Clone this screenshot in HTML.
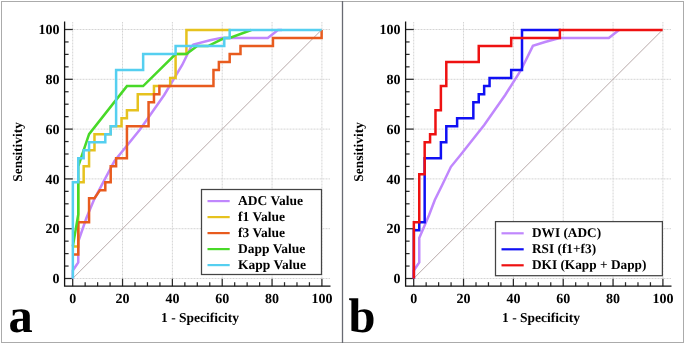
<!DOCTYPE html>
<html><head><meta charset="utf-8"><title>ROC curves</title>
<style>
html,body{margin:0;padding:0;background:#fff;}
body{width:685px;height:344px;overflow:hidden;}
svg{display:block;font-family:"Liberation Serif",serif;font-weight:bold;text-rendering:geometricPrecision;}
text{filter:grayscale(1);}
</style></head>
<body>
<svg width="685" height="344" viewBox="0 0 685 344" fill="#000">
<rect x="0" y="0" width="685" height="344" fill="#fff"/>
<rect x="1.5" y="1.5" width="682" height="341" fill="none" stroke="#ababab" stroke-width="1"/>
<line x1="342.5" y1="1" x2="342.5" y2="343" stroke="#686a72" stroke-width="1.3"/>
<g stroke="#d4d4d4" stroke-width="1" stroke-dasharray="1 0.5"><line x1="72.70" y1="22" x2="72.70" y2="286"/><line x1="65" y1="278.50" x2="330.5" y2="278.50"/><line x1="122.54" y1="22" x2="122.54" y2="286"/><line x1="65" y1="228.70" x2="330.5" y2="228.70"/><line x1="172.38" y1="22" x2="172.38" y2="286"/><line x1="65" y1="178.90" x2="330.5" y2="178.90"/><line x1="222.22" y1="22" x2="222.22" y2="286"/><line x1="65" y1="129.10" x2="330.5" y2="129.10"/><line x1="272.06" y1="22" x2="272.06" y2="286"/><line x1="65" y1="79.30" x2="330.5" y2="79.30"/><line x1="321.90" y1="22" x2="321.90" y2="286"/><line x1="65" y1="29.50" x2="330.5" y2="29.50"/></g>
<line x1="72.70" y1="278.5" x2="321.90" y2="29.50" stroke="#b8a9a9" stroke-width="1"/>
<g stroke="#2a2a2a" stroke-width="1.25"><line x1="64.6" y1="278.50" x2="72.80" y2="278.50"/><line x1="72.70" y1="286.2" x2="72.70" y2="278.70"/><line x1="64.6" y1="266.05" x2="68.60" y2="266.05"/><line x1="85.16" y1="286.2" x2="85.16" y2="282.20"/><line x1="64.6" y1="253.60" x2="68.60" y2="253.60"/><line x1="97.62" y1="286.2" x2="97.62" y2="282.20"/><line x1="64.6" y1="241.15" x2="68.60" y2="241.15"/><line x1="110.08" y1="286.2" x2="110.08" y2="282.20"/><line x1="64.6" y1="228.70" x2="72.80" y2="228.70"/><line x1="122.54" y1="286.2" x2="122.54" y2="278.70"/><line x1="64.6" y1="216.25" x2="68.60" y2="216.25"/><line x1="135.00" y1="286.2" x2="135.00" y2="282.20"/><line x1="64.6" y1="203.80" x2="68.60" y2="203.80"/><line x1="147.46" y1="286.2" x2="147.46" y2="282.20"/><line x1="64.6" y1="191.35" x2="68.60" y2="191.35"/><line x1="159.92" y1="286.2" x2="159.92" y2="282.20"/><line x1="64.6" y1="178.90" x2="72.80" y2="178.90"/><line x1="172.38" y1="286.2" x2="172.38" y2="278.70"/><line x1="64.6" y1="166.45" x2="68.60" y2="166.45"/><line x1="184.84" y1="286.2" x2="184.84" y2="282.20"/><line x1="64.6" y1="154.00" x2="68.60" y2="154.00"/><line x1="197.30" y1="286.2" x2="197.30" y2="282.20"/><line x1="64.6" y1="141.55" x2="68.60" y2="141.55"/><line x1="209.76" y1="286.2" x2="209.76" y2="282.20"/><line x1="64.6" y1="129.10" x2="72.80" y2="129.10"/><line x1="222.22" y1="286.2" x2="222.22" y2="278.70"/><line x1="64.6" y1="116.65" x2="68.60" y2="116.65"/><line x1="234.68" y1="286.2" x2="234.68" y2="282.20"/><line x1="64.6" y1="104.20" x2="68.60" y2="104.20"/><line x1="247.14" y1="286.2" x2="247.14" y2="282.20"/><line x1="64.6" y1="91.75" x2="68.60" y2="91.75"/><line x1="259.60" y1="286.2" x2="259.60" y2="282.20"/><line x1="64.6" y1="79.30" x2="72.80" y2="79.30"/><line x1="272.06" y1="286.2" x2="272.06" y2="278.70"/><line x1="64.6" y1="66.85" x2="68.60" y2="66.85"/><line x1="284.52" y1="286.2" x2="284.52" y2="282.20"/><line x1="64.6" y1="54.40" x2="68.60" y2="54.40"/><line x1="296.98" y1="286.2" x2="296.98" y2="282.20"/><line x1="64.6" y1="41.95" x2="68.60" y2="41.95"/><line x1="309.44" y1="286.2" x2="309.44" y2="282.20"/><line x1="64.6" y1="29.50" x2="72.80" y2="29.50"/><line x1="321.90" y1="286.2" x2="321.90" y2="278.70"/></g>
<path d="M64.6 21.5 L64.6 286.2 L330.5 286.2" fill="none" stroke="#111" stroke-width="1.3"/>
<g font-size="14"><text x="59.60" y="283.10" text-anchor="end">0</text><text x="72.70" y="302.6" text-anchor="middle">0</text><text x="59.60" y="233.30" text-anchor="end">20</text><text x="122.54" y="302.6" text-anchor="middle">20</text><text x="59.60" y="183.50" text-anchor="end">40</text><text x="172.38" y="302.6" text-anchor="middle">40</text><text x="59.60" y="133.70" text-anchor="end">60</text><text x="222.22" y="302.6" text-anchor="middle">60</text><text x="59.60" y="83.90" text-anchor="end">80</text><text x="272.06" y="302.6" text-anchor="middle">80</text><text x="59.60" y="34.10" text-anchor="end">100</text><text x="321.90" y="302.6" text-anchor="middle">100</text></g>
<text x="200.00" y="321.8" text-anchor="middle" font-size="13.5">1 - Specificity</text>
<text transform="translate(22.00,151.9) rotate(-90)" text-anchor="middle" font-size="13.4">Sensitivity</text>
<polyline points="72.85,278.45 72.85,270.44 78.25,262.42 78.25,241.50 86.40,218.00 94.20,199.30 100.00,188.30 114.50,161.00 140.00,129.50 164.20,95.00 182.20,65.00 190.90,47.20 193.30,44.60 210.00,40.20 221.00,37.90 267.80,37.90 278.00,29.90 282.00,29.90" fill="none" stroke="#c087fd" stroke-width="2.5" stroke-linejoin="miter" stroke-linecap="butt"/>
<polyline points="72.85,246.39 78.26,246.39 78.26,182.28 83.67,182.28 83.67,166.25 89.07,166.25 89.07,150.23 94.48,150.23 94.48,134.20 110.71,134.20 110.71,126.18 121.52,126.18 121.52,118.17 126.93,118.17 126.93,110.16 137.75,110.16 137.75,94.13 153.97,94.13 153.97,86.11 170.19,86.11 170.19,78.10 175.60,78.10 175.60,54.06 186.42,54.06 186.42,30.02 230.76,30.02" fill="none" stroke="#e6c21e" stroke-width="2.5" stroke-linejoin="miter" stroke-linecap="butt"/>
<polyline points="72.85,254.41 78.26,254.41 78.26,222.35 89.07,222.35 89.07,198.31 94.48,198.31 99.89,190.30 105.30,190.30 105.30,182.28 110.71,182.28 110.71,166.25 116.11,166.25 116.11,158.24 126.93,158.24 126.93,126.18 148.56,126.18 148.56,102.14 153.97,102.14 153.97,94.13 159.38,94.13 159.38,86.11 213.46,86.11 213.46,70.09 218.87,70.09 218.87,62.07 229.68,62.07 229.68,54.06 240.50,54.06 240.50,46.04 272.95,46.04 272.95,38.03 321.62,38.03 321.62,30.02" fill="none" stroke="#e85b1e" stroke-width="2.5" stroke-linejoin="miter" stroke-linecap="butt"/>
<polyline points="72.85,246.39 78.26,214.34 78.26,166.25 89.07,134.20 126.93,86.11 143.15,86.11 175.60,54.06 186.42,54.06 197.23,46.04 208.05,46.04 224.27,38.03 229.68,38.03 251.31,30.02" fill="none" stroke="#48d928" stroke-width="2.5" stroke-linejoin="miter" stroke-linecap="butt"/>
<polyline points="72.85,278.45 72.85,182.28 78.26,182.28 78.26,158.24 83.67,158.24 83.67,150.23 89.07,150.23 89.07,142.21 105.30,142.21 105.30,134.20 110.71,134.20 110.71,126.18 116.11,126.18 116.11,70.09 143.15,70.09 143.15,54.06 175.60,54.06 175.60,46.04 224.27,46.04 224.27,38.03 229.68,38.03 229.68,30.02 321.62,30.02" fill="none" stroke="#55cff0" stroke-width="2.5" stroke-linejoin="miter" stroke-linecap="butt"/>
<rect x="201.5" y="189.5" width="120.0" height="85.0" fill="#fff" stroke="#444" stroke-width="1.25"/>
<line x1="207.5" y1="201.10" x2="229.7" y2="201.10" stroke="#c087fd" stroke-width="2.2"/>
<text x="238.1" y="205.10" font-size="13.5">ADC Value</text>
<line x1="207.5" y1="217.10" x2="229.7" y2="217.10" stroke="#e6c21e" stroke-width="2.2"/>
<text x="238.1" y="221.10" font-size="13.5">f1 Value</text>
<line x1="207.5" y1="233.10" x2="229.7" y2="233.10" stroke="#e85b1e" stroke-width="2.2"/>
<text x="238.1" y="237.10" font-size="13.5">f3 Value</text>
<line x1="207.5" y1="249.10" x2="229.7" y2="249.10" stroke="#48d928" stroke-width="2.2"/>
<text x="238.1" y="253.10" font-size="13.5">Dapp Value</text>
<line x1="207.5" y1="265.10" x2="229.7" y2="265.10" stroke="#55cff0" stroke-width="2.2"/>
<text x="238.1" y="269.10" font-size="13.5">Kapp Value</text>
<g stroke="#d4d4d4" stroke-width="1" stroke-dasharray="1 0.5"><line x1="413.70" y1="22" x2="413.70" y2="286"/><line x1="406" y1="278.50" x2="671.5" y2="278.50"/><line x1="463.54" y1="22" x2="463.54" y2="286"/><line x1="406" y1="228.70" x2="671.5" y2="228.70"/><line x1="513.38" y1="22" x2="513.38" y2="286"/><line x1="406" y1="178.90" x2="671.5" y2="178.90"/><line x1="563.22" y1="22" x2="563.22" y2="286"/><line x1="406" y1="129.10" x2="671.5" y2="129.10"/><line x1="613.06" y1="22" x2="613.06" y2="286"/><line x1="406" y1="79.30" x2="671.5" y2="79.30"/><line x1="662.90" y1="22" x2="662.90" y2="286"/><line x1="406" y1="29.50" x2="671.5" y2="29.50"/></g>
<line x1="413.70" y1="278.5" x2="662.90" y2="29.50" stroke="#b8a9a9" stroke-width="1"/>
<g stroke="#2a2a2a" stroke-width="1.25"><line x1="405.6" y1="278.50" x2="413.80" y2="278.50"/><line x1="413.70" y1="286.2" x2="413.70" y2="278.70"/><line x1="405.6" y1="266.05" x2="409.60" y2="266.05"/><line x1="426.16" y1="286.2" x2="426.16" y2="282.20"/><line x1="405.6" y1="253.60" x2="409.60" y2="253.60"/><line x1="438.62" y1="286.2" x2="438.62" y2="282.20"/><line x1="405.6" y1="241.15" x2="409.60" y2="241.15"/><line x1="451.08" y1="286.2" x2="451.08" y2="282.20"/><line x1="405.6" y1="228.70" x2="413.80" y2="228.70"/><line x1="463.54" y1="286.2" x2="463.54" y2="278.70"/><line x1="405.6" y1="216.25" x2="409.60" y2="216.25"/><line x1="476.00" y1="286.2" x2="476.00" y2="282.20"/><line x1="405.6" y1="203.80" x2="409.60" y2="203.80"/><line x1="488.46" y1="286.2" x2="488.46" y2="282.20"/><line x1="405.6" y1="191.35" x2="409.60" y2="191.35"/><line x1="500.92" y1="286.2" x2="500.92" y2="282.20"/><line x1="405.6" y1="178.90" x2="413.80" y2="178.90"/><line x1="513.38" y1="286.2" x2="513.38" y2="278.70"/><line x1="405.6" y1="166.45" x2="409.60" y2="166.45"/><line x1="525.84" y1="286.2" x2="525.84" y2="282.20"/><line x1="405.6" y1="154.00" x2="409.60" y2="154.00"/><line x1="538.30" y1="286.2" x2="538.30" y2="282.20"/><line x1="405.6" y1="141.55" x2="409.60" y2="141.55"/><line x1="550.76" y1="286.2" x2="550.76" y2="282.20"/><line x1="405.6" y1="129.10" x2="413.80" y2="129.10"/><line x1="563.22" y1="286.2" x2="563.22" y2="278.70"/><line x1="405.6" y1="116.65" x2="409.60" y2="116.65"/><line x1="575.68" y1="286.2" x2="575.68" y2="282.20"/><line x1="405.6" y1="104.20" x2="409.60" y2="104.20"/><line x1="588.14" y1="286.2" x2="588.14" y2="282.20"/><line x1="405.6" y1="91.75" x2="409.60" y2="91.75"/><line x1="600.60" y1="286.2" x2="600.60" y2="282.20"/><line x1="405.6" y1="79.30" x2="413.80" y2="79.30"/><line x1="613.06" y1="286.2" x2="613.06" y2="278.70"/><line x1="405.6" y1="66.85" x2="409.60" y2="66.85"/><line x1="625.52" y1="286.2" x2="625.52" y2="282.20"/><line x1="405.6" y1="54.40" x2="409.60" y2="54.40"/><line x1="637.98" y1="286.2" x2="637.98" y2="282.20"/><line x1="405.6" y1="41.95" x2="409.60" y2="41.95"/><line x1="650.44" y1="286.2" x2="650.44" y2="282.20"/><line x1="405.6" y1="29.50" x2="413.80" y2="29.50"/><line x1="662.90" y1="286.2" x2="662.90" y2="278.70"/></g>
<path d="M405.6 21.5 L405.6 286.2 L671.5 286.2" fill="none" stroke="#111" stroke-width="1.3"/>
<g font-size="14"><text x="400.60" y="283.10" text-anchor="end">0</text><text x="413.70" y="302.6" text-anchor="middle">0</text><text x="400.60" y="233.30" text-anchor="end">20</text><text x="463.54" y="302.6" text-anchor="middle">20</text><text x="400.60" y="183.50" text-anchor="end">40</text><text x="513.38" y="302.6" text-anchor="middle">40</text><text x="400.60" y="133.70" text-anchor="end">60</text><text x="563.22" y="302.6" text-anchor="middle">60</text><text x="400.60" y="83.90" text-anchor="end">80</text><text x="613.06" y="302.6" text-anchor="middle">80</text><text x="400.60" y="34.10" text-anchor="end">100</text><text x="662.90" y="302.6" text-anchor="middle">100</text></g>
<text x="541.00" y="321.8" text-anchor="middle" font-size="13.5">1 - Specificity</text>
<text transform="translate(363.00,151.9) rotate(-90)" text-anchor="middle" font-size="13.4">Sensitivity</text>
<polyline points="413.85,278.45 413.85,270.44 419.25,262.42 419.25,238.10 429.10,215.00 434.80,200.00 442.20,185.00 450.90,166.80 460.50,155.00 484.20,125.00 505.20,95.00 520.90,70.20 532.90,45.90 545.00,42.00 559.50,38.10 608.80,37.90 619.00,29.90" fill="none" stroke="#c087fd" stroke-width="2.5" stroke-linejoin="miter" stroke-linecap="butt"/>
<polyline points="413.85,278.45 413.85,230.37 419.26,230.37 419.26,222.35 424.67,222.35 424.67,158.24 440.89,158.24 440.89,142.21 446.30,142.21 446.30,126.18 457.11,126.18 457.11,118.17 473.34,118.17 473.34,102.14 478.75,102.14 478.75,94.13 484.15,94.13 484.15,86.11 489.56,86.11 489.56,78.10 511.19,78.10 511.19,70.09 522.01,70.09 522.01,30.02 560.95,30.02" fill="none" stroke="#1010f4" stroke-width="2.5" stroke-linejoin="miter" stroke-linecap="butt"/>
<polyline points="413.85,278.45 413.85,222.35 419.26,222.35 419.26,174.27 424.67,174.27 424.67,142.21 430.07,142.21 430.07,134.20 435.48,134.20 435.48,110.16 440.89,110.16 440.89,86.11 446.30,86.11 446.30,62.07 478.75,62.07 478.75,46.04 511.19,46.04 511.19,38.03 559.87,38.03 559.87,30.02 662.62,30.02" fill="none" stroke="#ee1111" stroke-width="2.5" stroke-linejoin="miter" stroke-linecap="butt"/>
<rect x="495.5" y="221.6" width="166.89999999999998" height="54.099999999999994" fill="#fff" stroke="#444" stroke-width="1.25"/>
<line x1="501.5" y1="233.30" x2="523.7" y2="233.30" stroke="#c087fd" stroke-width="2.2"/>
<text x="532.0" y="237.30" font-size="13.3">DWI (ADC)</text>
<line x1="501.5" y1="249.30" x2="523.7" y2="249.30" stroke="#1010f4" stroke-width="2.2"/>
<text x="532.0" y="253.30" font-size="13.3">RSI (f1+f3)</text>
<line x1="501.5" y1="265.30" x2="523.7" y2="265.30" stroke="#ee1111" stroke-width="2.2"/>
<text x="532.0" y="269.30" font-size="13.3">DKI (Kapp + Dapp)</text>
<text x="8.4" y="331.5" font-size="48.5">a</text>
<text x="348.6" y="331.6" font-size="48.5">b</text>
</svg>
</body></html>
